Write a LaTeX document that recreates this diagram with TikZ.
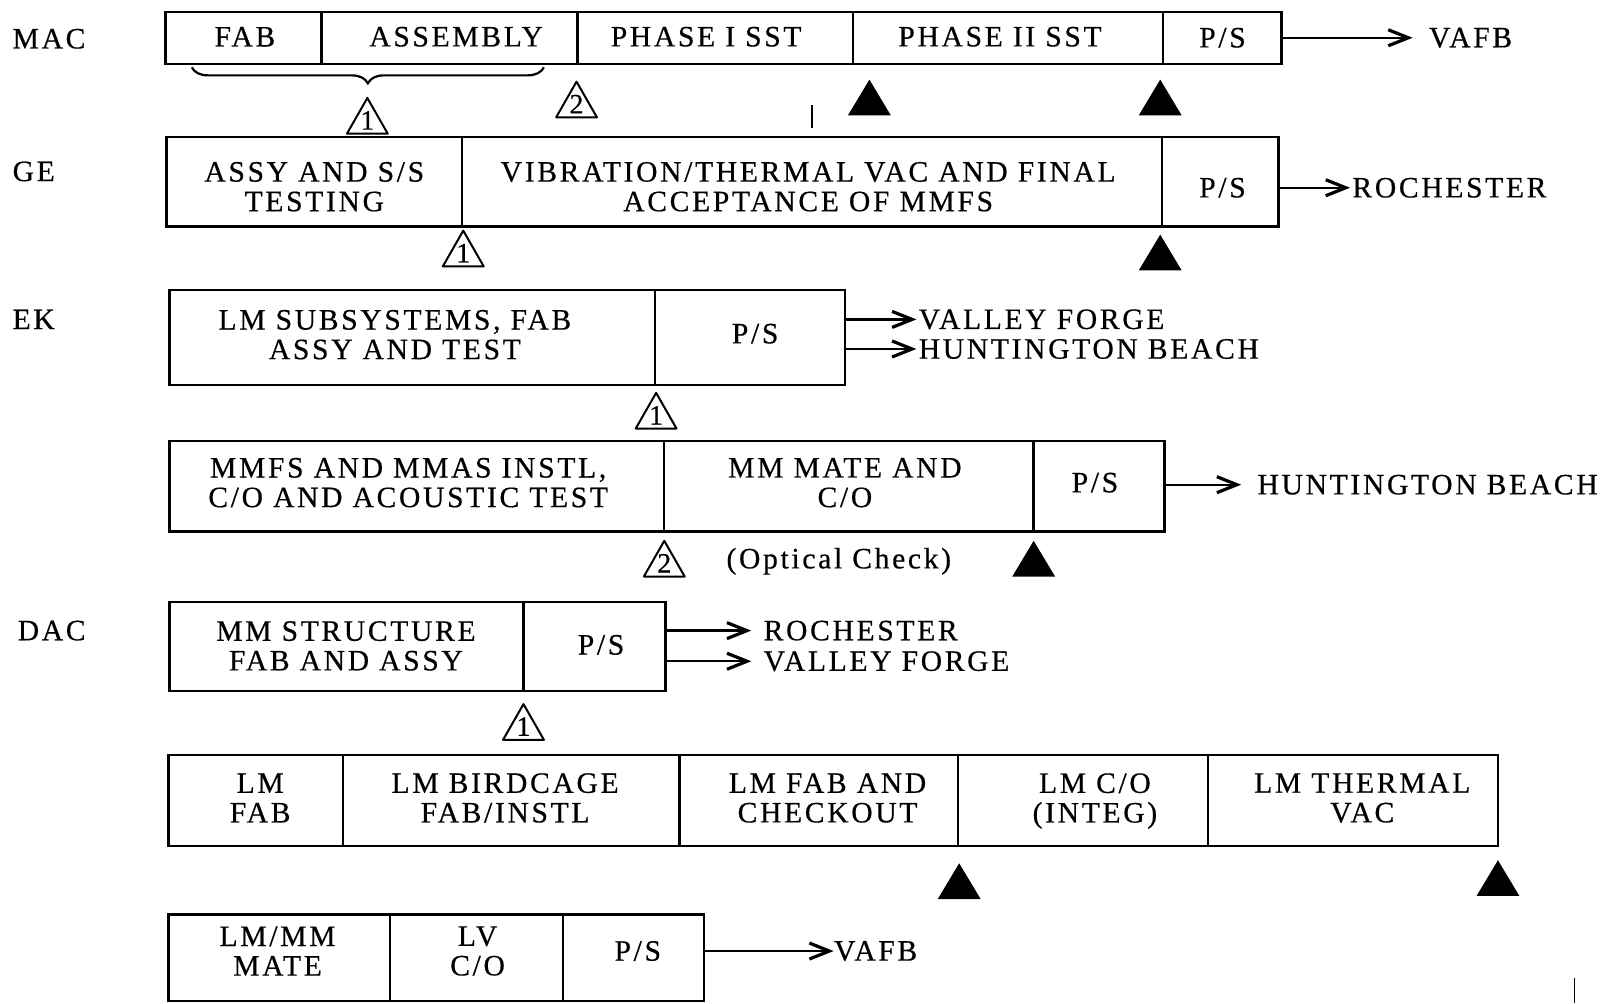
\documentclass[tikz,border=0pt]{standalone}
\usepackage{fontspec}
\setmainfont{Liberation Serif}
\newfontfamily\typer[LetterSpace=9,FakeBold=0.5]{Liberation Serif}
\newfontfamily\numfont[FakeBold=0.5]{Liberation Serif}
\usetikzlibrary{fit,arrows.meta,decorations.pathreplacing}
\tikzset{
  cell/.style={draw, line width=1.2pt, inner sep=0pt},
  txt/.style={font={\typer\fontsize{14.8}{14.8}\selectfont}, align=center, inner sep=0pt},
  org/.style={txt, anchor=west},
  dest/.style={txt, anchor=west},
  flow/.style={-{Straight Barb[length=10pt,width=8pt,line width=1.6pt]}, line width=1.2pt, shorten >=3pt},
  mopen/.pic={\draw[line width=1pt, line join=round] (0,0) -- (-20,35) -- (20,35) -- cycle;
              \node[inner sep=0pt, font={\numfont\fontsize{14}{14}\selectfont}] at (0,22) {#1};},
  mfill/.pic={\fill[black] (0,0) -- (-21,35) -- (21,35) -- cycle;}
}
\begin{document}
\begin{tikzpicture}[x=0.5102pt,y=-0.5102pt]
\useasboundingbox (0,0) rectangle (1568,983);
\fill[white] (0,0) rectangle (1568,983);

% ---------- MAC ----------
\node[org] (mac) at (12,38) {MAC};
\node[cell, fit={(162,12) (315,63)}] (macfab) {};
\node[cell, fit={(315,12) (566,63)}] (macasm) {};
\node[cell, fit={(566,12) (836,63)}] (macp1) {};
\node[cell, fit={(836,12) (1140,63)}] (macp2) {};
\node[cell, fit={(1140,12) (1256,63)}] (macps) {};
\node[txt] at (240,36) {FAB};
\node[txt] at (447,36) {ASSEMBLY};
\node[txt] at (692,36) {PHASE I SST};
\node[txt] at (980,36) {PHASE II SST};
\node[txt] at (1198,37) {P/S};
\node[dest] (macvafb) at (1400,37) {VAFB};
\draw[flow, shorten >=8pt] (macps.east |- macvafb.west) -- (macvafb.west);
\draw[line width=1.1pt, decorate, decoration={brace, amplitude=8pt, mirror}] (188,66) -- (533,66);
\pic at (360,96) {mopen=1};
\pic at (565,80) {mopen=2};
\pic at (852,78) {mfill};
\pic at (1137,78) {mfill};
\draw[line width=0.8pt] (796,103) -- (796,125);

% ---------- GE ----------
\node[org] (ge) at (12,168) {GE};
\node[cell, fit={(163,134) (453,222)}] (ge1) {};
\node[cell, fit={(453,134) (1139,222)}] (ge2) {};
\node[cell, fit={(1139,134) (1253,222)}] (geps) {};
\node[txt] at (308,183) {ASSY AND S/S\\TESTING};
\node[txt] at (792,183) {VIBRATION/THERMAL VAC AND FINAL\\ACCEPTANCE OF MMFS};
\node[txt] at (1198,184) {P/S};
\node[dest] (geroch) at (1325,184) {ROCHESTER};
\draw[flow, shorten >=1pt] (geps.east |- geroch.west) -- (geroch.west);
\pic at (454,226) {mopen=1};
\pic at (1137,230) {mfill};

% ---------- EK ----------
\node[org] (ek) at (12,313) {EK};
\node[cell, fit={(166,284) (642,377)}] (ek1) {};
\node[cell, fit={(642,284) (828,377)}] (ekps) {};
\node[txt] at (387,328) {LM SUBSYSTEMS, FAB\\ASSY AND TEST};
\node[txt] at (740,327) {P/S};
\node[dest] (ekvf) at (900,313) {VALLEY FORGE};
\node[dest] (ekhb) at (900,342) {HUNTINGTON BEACH};
\draw[flow, shorten >=1pt] (ekps.east |- ekvf.west) -- (ekvf.west);
\draw[flow, shorten >=1pt] (ekps.east |- ekhb.west) -- (ekhb.west);
\pic at (643,385) {mopen=1};

\node[cell, fit={(166,432) (651,521)}] (ek2a) {};
\node[cell, fit={(651,432) (1013,521)}] (ek2b) {};
\node[cell, fit={(1013,432) (1141,521)}] (ek2ps) {};
\node[txt] at (400,473) {MMFS AND MMAS INSTL,\\C/O AND ACOUSTIC TEST};
\node[txt] at (828,473) {MM MATE AND\\C/O};
\node[txt] at (1073,473) {P/S};
\node[dest] (ek2hb) at (1232,475) {HUNTINGTON BEACH};
\draw[flow, shorten >=8pt] (ek2ps.east |- ek2hb.west) -- (ek2hb.west);
\pic at (651,530) {mopen=2};
\node[txt] (optical) at (822,550) {(Optical Check)};
\pic at (1013,530) {mfill};

% ---------- DAC ----------
\node[org] (dac) at (17,618) {DAC};
\node[cell, fit={(166,590) (513,677)}] (dac1) {};
\node[cell, fit={(513,590) (652,677)}] (dacps) {};
\node[txt] at (339,633) {MM STRUCTURE\\FAB AND ASSY};
\node[txt] at (589,632) {P/S};
\node[dest] (dacroch) at (748,618) {ROCHESTER};
\node[dest] (dacvf) at (748,648) {VALLEY FORGE};
\draw[flow, shorten >=6pt] (dacps.east |- dacroch.west) -- (dacroch.west);
\draw[flow, shorten >=6pt] (dacps.east |- dacvf.west) -- (dacvf.west);
\pic at (513,690) {mopen=1};

\node[cell, fit={(165,740) (336,829)}] (lmfab) {};
\node[cell, fit={(336,740) (666,829)}] (lmbird) {};
\node[cell, fit={(666,740) (939,829)}] (lmfabc) {};
\node[cell, fit={(939,740) (1184,829)}] (lmco) {};
\node[cell, fit={(1184,740) (1468,829)}] (lmtv) {};
\node[txt] at (255,782) {LM\\FAB};
\node[txt] at (495,782) {LM BIRDCAGE\\FAB/INSTL};
\node[txt] at (811,782) {LM FAB AND\\CHECKOUT};
\node[txt] at (1073,785) {LM C/O\\(INTEG)};
\node[txt] at (1335,782) {LM THERMAL\\VAC};
\pic at (940,846) {mfill};
\pic at (1468,843) {mfill};

\node[cell, fit={(165,896) (382,981)}] (lmmm) {};
\node[cell, fit={(382,896) (552,981)}] (lvco) {};
\node[cell, fit={(552,896) (690,981)}] (lastps) {};
\node[txt] at (272,932) {LM/MM\\MATE};
\node[txt] at (468,932) {LV\\C/O};
\node[txt] at (625,932) {P/S};
\node[dest] (lastvafb) at (817,932) {VAFB};
\draw[flow, shorten >=0pt] (lastps.east |- lastvafb.west) -- (lastvafb.west);
\draw[line width=0.8pt] (1543,958) -- (1543,983);
\end{tikzpicture}
\end{document}
